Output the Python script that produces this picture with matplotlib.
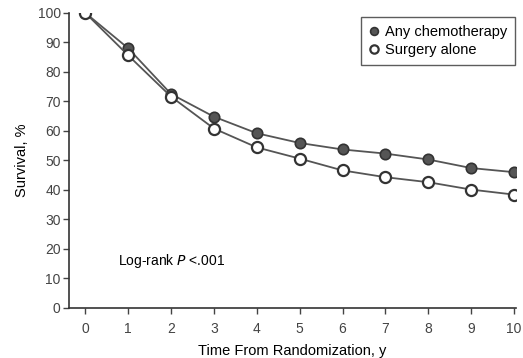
import numpy as np
import matplotlib.pyplot as plt

plt.rcParams['font.family'] = ['Liberation Sans', 'DejaVu Sans']

# survival at each year after randomization
years = [0, 1, 2, 3, 4, 5, 6, 7, 8, 9, 10]
chemo = [100, 88, 72.5, 64.8, 59.2, 55.9, 53.7, 52.3, 50.3, 47.4, 46.0]
surgery = [100, 85.6, 71.6, 60.8, 54.4, 50.6, 46.6, 44.3, 42.6, 40.1, 38.4]

fig = plt.figure(figsize=(5.23, 3.58), dpi=100)
ax = fig.add_axes([0.132, 0.14, 0.855, 0.824])

ax.plot(years, chemo, color='#555555', lw=1.3, marker='o', ms=7.5,
        mfc='#555555', mec='#333333', mew=1.2, label='Any chemotherapy', zorder=3)
ax.plot(years, surgery, color='#555555', lw=1.3, marker='o', ms=8,
        mfc='white', mec='#333333', mew=1.6, label='Surgery alone', zorder=3)

ax.set_xlim(-0.38, 10.05)
ax.set_ylim(0, 100)
ax.set_xticks(range(0, 11))
ax.set_yticks(range(0, 101, 10))
ax.tick_params(axis='both', labelsize=10, colors='#444444', labelcolor='#444444',
               length=4, width=1)
ax.tick_params(axis='x', pad=6)
ax.tick_params(axis='y', pad=2)
for s in ['top', 'right']:
    ax.spines[s].set_visible(False)
for s in ['left', 'bottom']:
    ax.spines[s].set_color('#333333')
    ax.spines[s].set_linewidth(1.2)

ax.set_xlabel('Time From Randomization, y', fontsize=10.5, labelpad=6)
ax.set_ylabel('Survival, %', fontsize=10.5, labelpad=6)

ax.text(0.77, 16, 'Log-rank $\\it{P}$ <.001', fontsize=10, va='center')

leg = ax.legend(loc='upper right', bbox_to_anchor=(1.014, 1.012), fontsize=10.5,
                frameon=True, fancybox=False, handlelength=0.7, handletextpad=0.4,
                borderpad=0.55, labelspacing=0.3, markerscale=0.75)
leg.get_frame().set_edgecolor('#333333')
leg.get_frame().set_linewidth(1.0)
for h in leg.get_lines():
    h.set_linestyle('none')

fig.savefig('out.png', dpi=100)
